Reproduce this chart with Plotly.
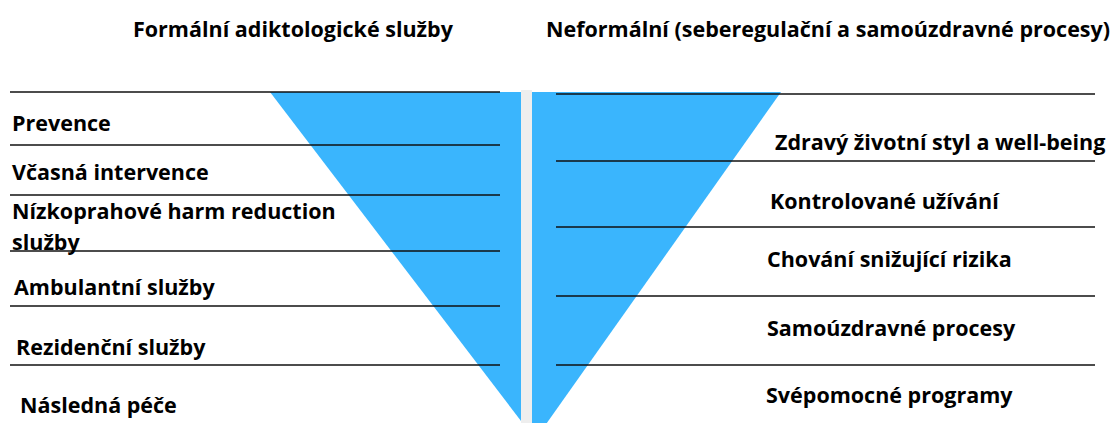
import plotly.graph_objects as go

# ---- content ----
titles = ["Formální adiktologické služby",
          "Neformální (seberegulační a samoúzdravné procesy)"]
left_labels = ["Prevence", "Včasná intervence",
               "Nízkoprahové harm reduction<br>služby",
               "Ambulantní služby", "Rezidenční služby", "Následná péče"]
right_labels = ["Zdravý životní styl a well-being", "Kontrolované užívání",
                "Chování snižující rizika", "Samoúzdravné procesy",
                "Svépomocné programy"]

# ---- layout geometry (pixel space of the 1113x423 canvas) ----
W, H = 1113, 423
left_lines_y = [92, 145, 195, 251, 306, 365]
right_lines_y = [94, 161, 227, 296, 365]
left_label_pos = [(10, 122), (10, 171), (10, 210), (12, 286), (14, 346), (18, 404)]
right_label_pos = [(773, 141), (768, 200), (765, 258), (765, 327), (764, 394)]
LINE_GAP = 31
TITLE_Y = 28
title_x = [293, 828]

BLUE = "#3AB5FD"
LINE = "#111111"
FONT = "Open Sans"
FS = 21.5

fig = go.Figure()

# left triangle
fig.add_trace(go.Scatter(x=[270, 521, 521, 270], y=[92, 92, 421, 92],
                         fill="toself", fillcolor=BLUE, mode="lines",
                         line=dict(width=0, color=BLUE), hoverinfo="skip"))
# right triangle
fig.add_trace(go.Scatter(x=[532, 781, 532, 532], y=[92, 92, 444, 92],
                         fill="toself", fillcolor=BLUE, mode="lines",
                         line=dict(width=0, color=BLUE), hoverinfo="skip"))

shapes = []
shapes.append(dict(type="rect", x0=521, x1=532, y0=90, y1=H, xref="x", yref="y",
                   fillcolor="#EEEEEE", line=dict(width=0)))
for y in left_lines_y:
    shapes.append(dict(type="line", x0=10, x1=500, y0=y, y1=y, xref="x", yref="y",
                       line=dict(color=LINE, width=1.6)))
for y in right_lines_y:
    shapes.append(dict(type="line", x0=556, x1=1095, y0=y, y1=y, xref="x", yref="y",
                       line=dict(color=LINE, width=1.6)))

font = dict(family=FONT, size=FS, color="#000")
annotations = []
for t, x in zip(titles, title_x):
    annotations.append(dict(x=x, y=TITLE_Y, text="<b>" + t + "</b>", showarrow=False,
                            xanchor="center", yanchor="middle", xref="x", yref="y",
                            font=font))


def add_label(lab, x, y):
    for i, part in enumerate(lab.split("<br>")):
        annotations.append(dict(x=x, y=y + i * LINE_GAP, text="<b>" + part + "</b>",
                                showarrow=False, xanchor="left", yanchor="middle",
                                xref="x", yref="y", font=font))


for lab, (x, y) in zip(left_labels, left_label_pos):
    add_label(lab, x, y)
for lab, (x, y) in zip(right_labels, right_label_pos):
    add_label(lab, x, y)

fig.update_layout(
    width=W, height=H, margin=dict(l=0, r=0, t=0, b=0),
    paper_bgcolor="white", plot_bgcolor="white", showlegend=False,
    xaxis=dict(range=[0, W], visible=False, fixedrange=True),
    yaxis=dict(range=[H, 0], visible=False, fixedrange=True),
    shapes=shapes, annotations=annotations,
)

fig.write_html("out.html", config={"displayModeBar": False},
               post_script="document.body.style.margin='0';document.body.style.overflow='hidden';")
